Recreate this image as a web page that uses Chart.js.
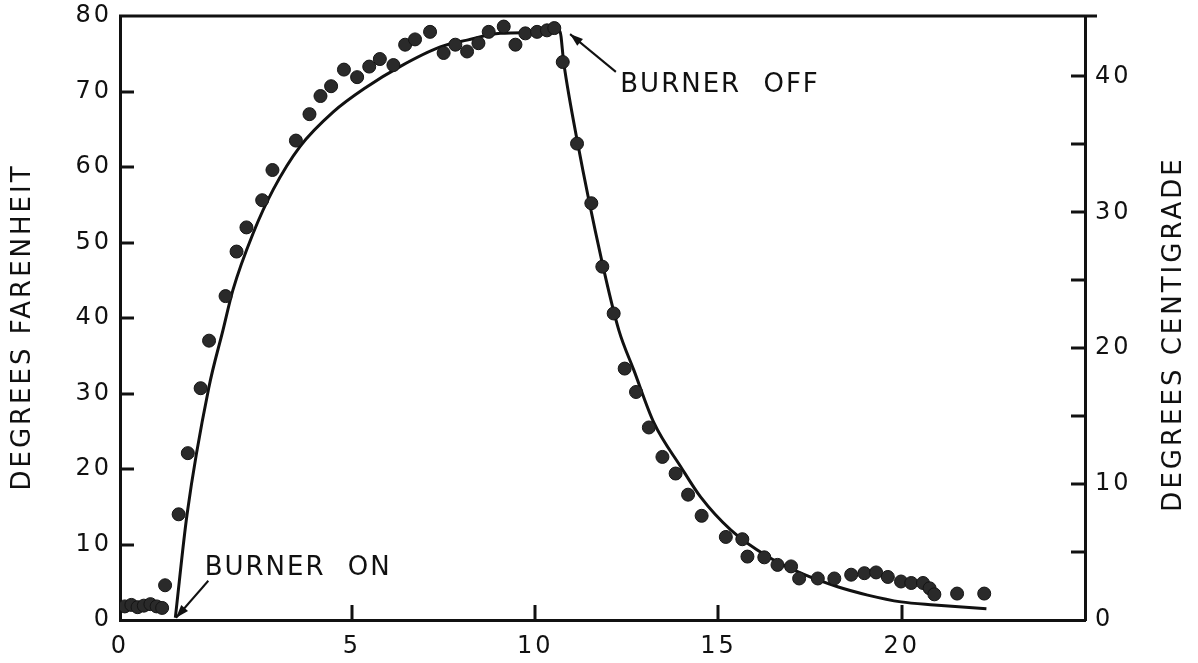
<!DOCTYPE html>
<html>
<head>
<meta charset="utf-8">
<script src="https://cdn.jsdelivr.net/npm/chart.js@4.4.1/dist/chart.umd.min.js"></script>
<style>
html,body{margin:0;padding:0;background:#fff;}
canvas{display:block;}
</style>
</head>
<body>
<canvas id="chart" width="1198" height="663"></canvas>
<script>
// ===== Data =====
// measured temperatures (deg F above start) vs time
const timeDots = [
  -1.2, -1.02, -0.85, -0.68, -0.5, -0.33, -0.18,
  -0.10, 0.27, 0.52, 0.87, 1.10, 1.55, 1.85, 2.12, 2.55, 2.83, 3.47, 3.84, 4.14, 4.43,
  4.78, 5.14, 5.47, 5.76, 6.13, 6.45, 6.72, 7.13, 7.50, 7.82, 8.14, 8.45, 8.73, 9.14,
  9.46, 9.73, 10.05, 10.32, 10.52, 10.75, 11.14, 11.53, 11.83, 12.14, 12.44, 12.75, 13.10,
  13.47, 13.83, 14.17, 14.54, 15.20, 15.65, 15.79, 16.25, 16.61, 16.98, 17.20, 17.71,
  18.16, 18.62, 18.98, 19.30, 19.62, 19.98, 20.26, 20.58, 20.76, 20.89, 21.51, 22.25
];
const tempDots = [
  1.8, 2.0, 1.7, 1.9, 2.1, 1.8, 1.6,
  4.6, 14.0, 22.1, 30.7, 37.0, 42.9, 48.8, 52.0, 55.6, 59.6, 63.5, 67.0, 69.4, 70.7,
  72.9, 71.9, 73.3, 74.3, 73.5, 76.2, 76.9, 77.9, 75.1, 76.2, 75.3, 76.4, 77.9, 78.6,
  76.2, 77.7, 77.9, 78.1, 78.4, 73.9, 63.1, 55.2, 46.8, 40.6, 33.3, 30.2, 25.5,
  21.6, 19.4, 16.6, 13.8, 11.0, 10.7, 8.4, 8.3, 7.3, 7.1, 5.5, 5.5,
  5.5, 6.0, 6.2, 6.3, 5.7, 5.1, 4.9, 4.9, 4.2, 3.4, 3.5, 3.5
];

// fitted curve
const timeCurve = [
  0.18, 0.50, 1.09, 1.48, 1.75, 2.30, 2.85, 3.58, 4.49, 5.40, 6.31, 7.41, 8.14,
  9.05, 10.05, 10.67, 10.78, 11.14, 11.81, 12.28, 12.69, 13.24, 13.97, 14.51, 15.34,
  16.34, 17.25, 18.25, 19.07, 19.98, 20.89, 22.31
];
const tempCurve = [
  0.3, 14.0, 30.7, 38.4, 43.7, 51.2, 57.0, 62.7, 67.3, 70.6, 73.3, 75.9, 76.8,
  77.7, 77.8, 78.0, 73.7, 63.6, 47.7, 38.4, 33.1, 26.1, 20.3, 16.3, 11.9,
  8.4, 6.2, 4.4, 3.3, 2.4, 2.0, 1.5
];

// ticks
const xTicks = [5, 10, 15, 20];
const fTicks = [10, 20, 30, 40, 50, 60, 70];
const cTicks = [5, 10, 15, 20, 25, 30, 35, 40];
const X_MIN = -1.33, X_MAX = 25;
const F_MAX = 80;
const C_MAX = F_MAX * 5 / 9;   // right axis is the same span in centigrade

// notes (data coords)
const notes = [
  {text:'BURNER ON',  at:[0.98, 6.9],   from:[1.08, 5.2],  to:[0.2, 0.3]},
  {text:'BURNER OFF', at:[12.32, 70.8], from:[12.2, 72.6], to:[10.95, 77.6]}
];

const FONT = '"DejaVu Sans", Verdana, sans-serif';
const INK = '#111';

// ===== Plugins =====
function strokeLine(ctx, x1, y1, x2, y2){
  ctx.beginPath(); ctx.moveTo(x1, y1); ctx.lineTo(x2, y2); ctx.stroke();
}

const inkPlugin = {
  id:'ink',
  beforeDraw(chart){
    chart.ctx.letterSpacing = '3px';
  },
  afterDraw(chart){
    const {ctx, chartArea:a, scales} = chart;
    const sx = scales.x, sy = scales.y, sc = scales.y2;
    ctx.save();
    ctx.strokeStyle = INK;
    ctx.fillStyle = INK;
    ctx.lineWidth = 3;
    ctx.lineCap = 'butt';

    // inward tick marks
    xTicks.forEach(v=>{
      const px = Math.round(sx.getPixelForValue(v));
      strokeLine(ctx, px, a.bottom, px, a.bottom - 15);
    });
    fTicks.forEach(v=>{
      const py = Math.round(sy.getPixelForValue(v));
      strokeLine(ctx, a.left, py, a.left + 14, py);
    });
    cTicks.forEach(v=>{
      const py = Math.round(sc.getPixelForValue(v));
      strokeLine(ctx, a.right, py, a.right - 14, py);
    });

    // top frame line
    strokeLine(ctx, a.left - 1, a.top, a.right + 12, a.top);

    // axis titles (both read bottom to top)
    ctx.font = `26px ${FONT}`;
    ctx.letterSpacing = '3px';
    ctx.textAlign = 'center';
    ctx.textBaseline = 'middle';
    const midY = (a.top + a.bottom) / 2;
    [['DEGREES FARENHEIT', a.left - 97, midY + 9], ['DEGREES CENTIGRADE', a.right + 89, midY + 16]]
      .forEach(([txt, tx, ty])=>{
        ctx.save();
        ctx.translate(tx, ty);
        ctx.rotate(-Math.PI / 2);
        ctx.fillText(txt, 0, 0);
        ctx.restore();
      });

    // notes + arrows
    ctx.textAlign = 'left';
    ctx.letterSpacing = '2px';
    ctx.wordSpacing = '12px';
    ctx.lineWidth = 2;
    notes.forEach(n=>{
      ctx.fillText(n.text, sx.getPixelForValue(n.at[0]), sy.getPixelForValue(n.at[1]));
      const x1 = sx.getPixelForValue(n.from[0]), y1 = sy.getPixelForValue(n.from[1]);
      const x2 = sx.getPixelForValue(n.to[0]),   y2 = sy.getPixelForValue(n.to[1]);
      strokeLine(ctx, x1, y1, x2, y2);
      const ang = Math.atan2(y2 - y1, x2 - x1);
      ctx.beginPath();
      ctx.moveTo(x2, y2);
      ctx.lineTo(x2 - 13*Math.cos(ang) + 4.5*Math.sin(ang), y2 - 13*Math.sin(ang) - 4.5*Math.cos(ang));
      ctx.lineTo(x2 - 13*Math.cos(ang) - 4.5*Math.sin(ang), y2 - 13*Math.sin(ang) + 4.5*Math.cos(ang));
      ctx.closePath();
      ctx.fill();
    });
    ctx.restore();
  }
};

// ===== Chart =====
const dotData = timeDots.map((t,i)=>({x:t, y:tempDots[i]}));
const curveData = timeCurve.map((t,i)=>({x:t, y:tempCurve[i]}));

const tickFont = {family:FONT, size:24};
const noPadV = s => { s.paddingTop = 0; s.paddingBottom = 0; };

new Chart(document.getElementById('chart').getContext('2d'), {
  type:'scatter',
  data:{datasets:[
    {label:'measured', data:dotData, pointRadius:6.5, pointHoverRadius:6.5,
     backgroundColor:'#2a2a2a', borderColor:'#141414', borderWidth:1, order:1},
    {label:'fit', data:curveData, showLine:true, pointRadius:0, borderColor:INK,
     borderWidth:3, cubicInterpolationMode:'monotone', order:2}
  ]},
  options:{
    responsive:false,
    animation:false,
    devicePixelRatio:1,
    layout:{padding:{top:16, left:0, right:0, bottom:0}},
    plugins:{legend:{display:false}, tooltip:{enabled:false}},
    scales:{
      x:{
        type:'linear', min:X_MIN, max:X_MAX,
        afterBuildTicks: s => { s.ticks = [X_MIN, ...xTicks].map(v=>({value:v})); },
        afterFit: s => { s.height = 43; s.paddingLeft = 0; s.paddingRight = 0; },
        ticks:{color:INK, font:tickFont, padding:12, autoSkip:false, maxRotation:0,
               callback: v => v === X_MIN ? '0' : String(v)},
        grid:{display:false, drawTicks:false},
        border:{display:true, color:INK, width:3}
      },
      y:{
        position:'left', min:0, max:F_MAX,
        afterFit: s => { s.width = 120; noPadV(s); },
        ticks:{stepSize:10, color:INK, font:tickFont, padding:8},
        grid:{display:false, drawTicks:false},
        border:{display:true, color:INK, width:3}
      },
      y2:{
        position:'right', min:0, max:C_MAX,
        afterFit: s => { s.width = 113; noPadV(s); },
        ticks:{stepSize:5, includeBounds:false, color:INK, font:tickFont, padding:10,
               callback: v => v % 10 === 0 ? String(v) : ''},
        grid:{display:false, drawTicks:false},
        border:{display:true, color:INK, width:3}
      }
    }
  },
  plugins:[inkPlugin]
});
</script>
</body>
</html>
